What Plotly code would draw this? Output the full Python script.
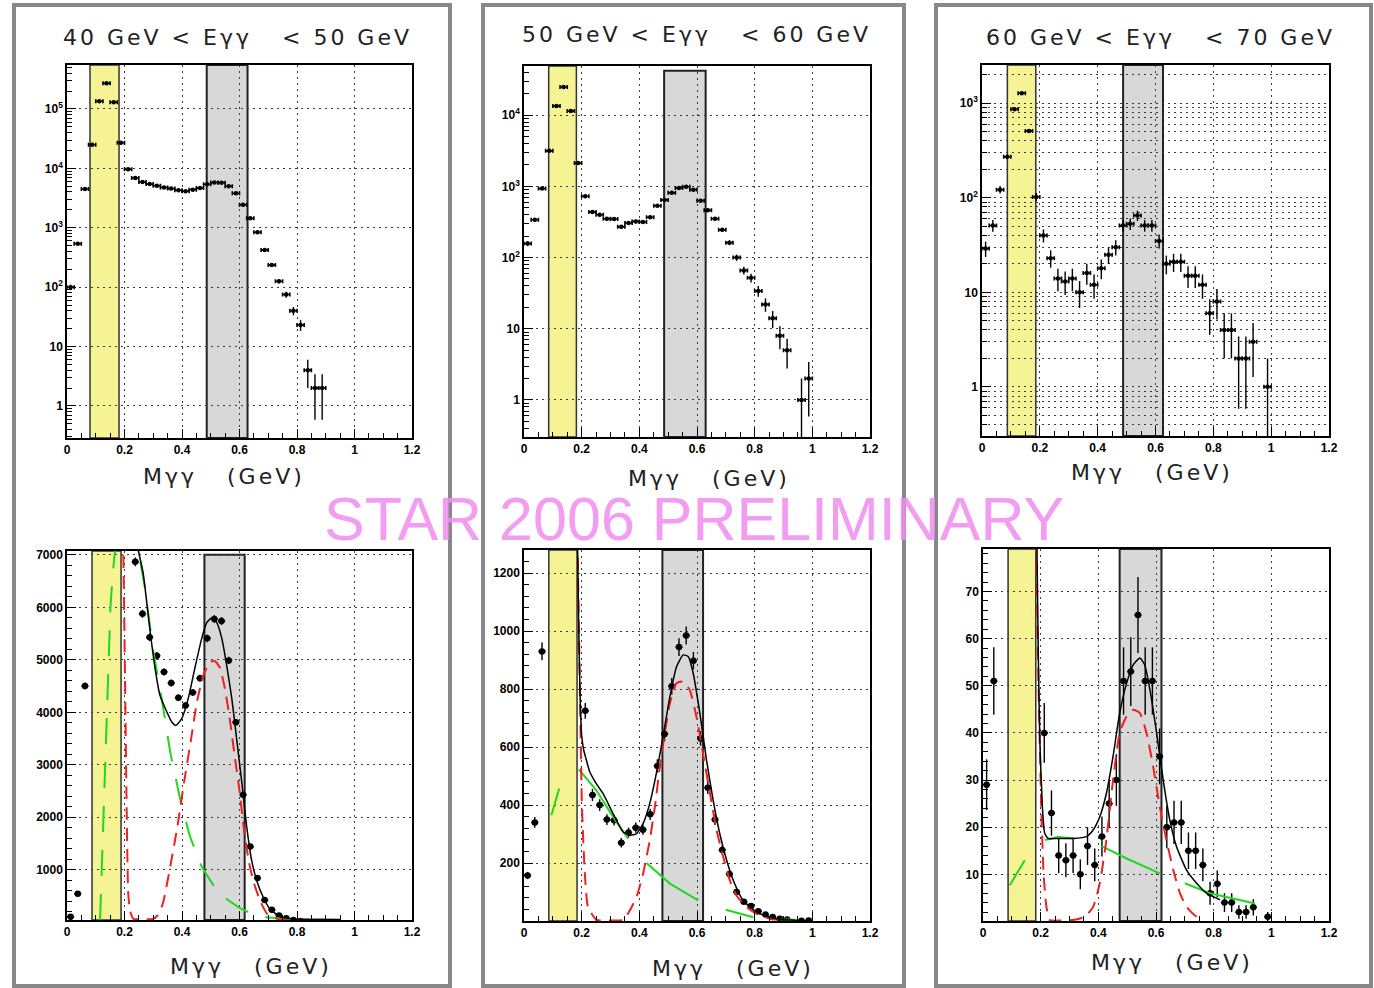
import numpy as np
import plotly.graph_objects as go

W, H = 1374, 988

# ---------------- data ----------------
MASS = [0.0125, 0.0375, 0.0625, 0.0875, 0.1125, 0.1375, 0.1625, 0.1875, 0.2125, 0.2375,
        0.2625, 0.2875, 0.3125, 0.3375, 0.3625, 0.3875, 0.4125, 0.4375, 0.4625, 0.4875,
        0.5125, 0.5375, 0.5625, 0.5875, 0.6125, 0.6375, 0.6625, 0.6875, 0.7125, 0.7375,
        0.7625, 0.7875, 0.8125, 0.8375, 0.8625, 0.8875, 0.9125, 0.9375, 0.9625, 0.9875]

COUNTS_40_50 = [100, 540, 4500, 25000, 135000, 270000, 130000, 27000, 9700, 6870,
                5880, 5430, 5080, 4770, 4560, 4280, 4130, 4380, 4650, 5410,
                5780, 5740, 4990, 3810, 2430, 1440, 840, 420, 235, 126,
                75, 40, 23, 4, 2, 2, None, None, None, None]

COUNTS_50_60 = [157, 340, 930, 3150, 13400, 24800, 11400, 2120, 725, 435,
                400, 350, 348, 270, 305, 322, 315, 368, 535, 645,
                810, 945, 985, 898, 630, 460, 350, 245, 162, 100,
                66, 52, 34, 22, 14, 8, 5, None, 1, 2]

COUNTS_60_70 = [29, 51, 122, 272, 864, 1276, 510, 102, 40, 23,
                14, 13, 14, 10, 16, 12, 18, 25, 30, 51,
                53, 65, 51, 51, 35, 20, 21, 21, 15, 15,
                12, 6, 8, 4, 4, 2, 2, 3, None, 1]

TITLES = ["40 GeV < Eγγ\u00a0\u00a0 < 50 GeV",
          "50 GeV < Eγγ\u00a0\u00a0 < 60 GeV",
          "60 GeV < Eγγ\u00a0\u00a0 < 70 GeV"]
XLABEL = "Mγγ\u00a0\u00a0 (GeV)"
WATERMARK = "STAR 2006 PRELIMINARY"

X_TICKS = [0, 0.2, 0.4, 0.6, 0.8, 1.0, 1.2]
X_TICK_TEXT = ["0", "0.2", "0.4", "0.6", "0.8", "1", "1.2"]

LOG_TICKS_40_50 = [1, 10, 100, 1000, 10000, 100000]
LOG_TEXT_40_50 = ["1", "10", "10<sup>2</sup>", "10<sup>3</sup>", "10<sup>4</sup>", "10<sup>5</sup>"]
LOG_TICKS_50_60 = [1, 10, 100, 1000, 10000]
LOG_TEXT_50_60 = ["1", "10", "10<sup>2</sup>", "10<sup>3</sup>", "10<sup>4</sup>"]
LOG_TICKS_60_70 = [1, 10, 100, 1000]
LOG_TEXT_60_70 = ["1", "10", "10<sup>2</sup>", "10<sup>3</sup>"]

LIN_TICKS_40_50 = [1000, 2000, 3000, 4000, 5000, 6000, 7000]
LIN_TICKS_50_60 = [200, 400, 600, 800, 1000, 1200]
LIN_TICKS_60_70 = [10, 20, 30, 40, 50, 60, 70]

# fit curves (total = black, signal = red, background = green)
FIT_40_50_X = [0.24, 0.248, 0.265, 0.289, 0.306, 0.323, 0.347, 0.364, 0.379, 0.399, 0.422, 0.445,
               0.469, 0.486, 0.503, 0.521, 0.538, 0.555, 0.573, 0.59, 0.608, 0.625, 0.642, 0.66,
               0.683, 0.706, 0.741, 0.787, 0.85, 0.95]
FIT_40_50_Y = [7600, 7100, 6650, 5550, 4850, 4330, 4010, 3820, 3750, 3880, 4270, 4850,
               5420, 5710, 5800, 5710, 5420, 4910, 4270, 3500, 2660, 1820, 1180, 790,
               470, 250, 100, 60, 50, 48]
SIG_40_50_X = [0.19, 0.196, 0.2017, 0.2075, 0.213, 0.22, 0.231, 0.26, 0.299, 0.315, 0.333, 0.361,
               0.384, 0.407, 0.43, 0.452, 0.475, 0.498, 0.515, 0.532, 0.549, 0.566, 0.583, 0.6,
               0.617, 0.634, 0.651, 0.674, 0.697, 0.732, 0.778, 0.85]
SIG_40_50_Y = [9000, 7030, 4720, 2150, 540, 200, 60, 55, 60, 130, 344, 1116,
               1823, 2659, 3431, 4203, 4717, 4961, 4974, 4846, 4460, 3881, 3174, 2500,
               1695, 1116, 730, 376, 151, 60, 50, 48]
BKG_40_50_X = [0.115, 0.128, 0.139, 0.151, 0.16, 0.168, 0.175, None,
               0.238, 0.248, 0.27, 0.3, 0.329, 0.36, 0.399, 0.428, 0.469, 0.521, 0.545,
               0.58, 0.6, 0.665, 0.73, 0.8, 0.94]
BKG_40_50_Y = [40, 2200, 4300, 6000, 6700, 7080, 7500, None,
               7700, 7100, 6400, 5170, 4270, 3210, 2210, 1630, 1050, 600, 480,
               340, 270, 100, 70, 50, 46]

FIT_50_60_X = [0.185, 0.19, 0.195, 0.2, 0.207, 0.215, 0.228, 0.25, 0.274, 0.309, 0.344, 0.367,
               0.39, 0.413, 0.436, 0.459, 0.482, 0.506, 0.529, 0.552, 0.57, 0.587, 0.61, 0.633,
               0.656, 0.679, 0.703, 0.726, 0.76, 0.807, 0.853, 0.911, 0.97]
FIT_50_60_Y = [1350, 1000, 760, 640, 590, 560, 515, 475, 440, 370, 307, 296,
               301, 336, 405, 509, 635, 774, 877, 918, 912, 854, 716, 555,
               417, 301, 209, 140, 71, 31, 13, 4, 2]
SIG_50_60_X = [0.184, 0.193, 0.201, 0.211, 0.222, 0.251, 0.3, 0.344, 0.367, 0.39, 0.413, 0.436,
               0.454, 0.471, 0.488, 0.506, 0.529, 0.552, 0.575, 0.598, 0.621, 0.645, 0.668,
               0.691, 0.714, 0.737, 0.772, 0.807, 0.853, 0.9]
SIG_50_60_Y = [1400, 854, 394, 163, 48, 4, 2, 4, 36, 82, 163, 278,
               394, 532, 647, 751, 820, 826, 797, 705, 578, 440, 313,
               221, 140, 88, 48, 25, 8, 2]
BKG_50_60_X = [0.095, 0.122, None, 0.19, 0.251, 0.309, 0.361, None, 0.425, 0.506, 0.604, None,
               0.70, 0.795, None, 0.888, 0.94]
BKG_50_60_Y = [365, 457, None, 523, 451, 359, 284, None, 200, 129, 71, None,
               39, 13, None, 6, 4]

FIT_60_70_X = [0.186, 0.191, 0.197, 0.206, 0.214, 0.226, 0.255, 0.312, 0.359, 0.382, 0.405, 0.428,
               0.451, 0.474, 0.498, 0.521, 0.544, 0.561, 0.579, 0.602, 0.625, 0.648, 0.671,
               0.706, 0.741, 0.775, 0.822]
FIT_60_70_Y = [85, 59.8, 38.5, 24.3, 18.7, 17.6, 17.6, 17.6, 18, 19.4, 22.2, 27.2,
               35, 44.2, 50.5, 54.4, 55.9, 54.4, 49.1, 40, 30, 21.5, 15.9,
               10.9, 8.1, 6, 4.6]
SIG_60_70_X = [0.183, 0.1875, 0.194, 0.202, 0.21, 0.22, 0.231, 0.27, 0.312, 0.353, 0.382, 0.405,
               0.428, 0.451, 0.474, 0.498, 0.521, 0.544, 0.567, 0.59, 0.613, 0.636, 0.66,
               0.683, 0.706, 0.741, 0.764]
SIG_60_70_Y = [85, 66.8, 45.6, 24.4, 10.2, 3.1, 0.3, 0.2, 0.3, 1, 3.1, 8.1,
               17.3, 30, 40, 43.5, 44.9, 44.2, 40, 32.9, 24.4, 17.3, 10.9,
               6, 3.1, 1, 0.3]
BKG_60_70_X = [0.093, 0.145, None, 0.214, 0.26, 0.318, None, 0.411, 0.5, 0.613, None,
               0.70, 0.787, 0.943]
BKG_60_70_Y = [7.7, 13, None, 17.3, 17.9, 17.6, None, 16, 13.3, 10.2, None,
               8.1, 6, 3.8]

# highlighted mass windows (pi0 = yellow, eta = gray), one per panel
YELLOW_BANDS = [(0.080, 0.181), (0.0856, 0.1817), (0.0877, 0.186),
                (0.087, 0.188), (0.086, 0.184), (0.087, 0.183)]
GRAY_BANDS = [(0.486, 0.628), (0.486, 0.630), (0.488, 0.626),
              (0.478, 0.618), (0.480, 0.621), (0.474, 0.619)]
GRAY_TOPS = [1.0, 0.987, 1.0, 0.99, 1.0, 1.0]

# ---------------- layout geometry (pixels) ----------------
PANELS = [
    dict(box=(67, 412, 65, 438), log=True, yr=[-0.54, 5.74], counts=COUNTS_40_50,
         tv=LOG_TICKS_40_50, tt=LOG_TEXT_40_50, mgrid=False),
    dict(box=(524, 870, 66, 437), log=True, yr=[-0.52, 4.69], counts=COUNTS_50_60,
         tv=LOG_TICKS_50_60, tt=LOG_TEXT_50_60, mgrid=False),
    dict(box=(982, 1329, 65, 436), log=True, yr=[-0.52, 3.405], counts=COUNTS_60_70,
         tv=LOG_TICKS_60_70, tt=LOG_TEXT_60_70, mgrid=True),
    dict(box=(67, 412, 551, 920), log=False, yr=[40, 7076], counts=COUNTS_40_50,
         tv=LIN_TICKS_40_50, tt=[str(v) for v in LIN_TICKS_40_50], minor=200,
         fit=(FIT_40_50_X, FIT_40_50_Y), sig=(SIG_40_50_X, SIG_40_50_Y),
         bkg=(BKG_40_50_X, BKG_40_50_Y), bkgdash="26px,18px"),
    dict(box=(524, 870, 550, 921), log=False, yr=[0, 1280], counts=COUNTS_50_60,
         tv=LIN_TICKS_50_60, tt=[str(v) for v in LIN_TICKS_50_60], minor=40,
         fit=(FIT_50_60_X, FIT_50_60_Y), sig=(SIG_50_60_X, SIG_50_60_Y),
         bkg=(BKG_50_60_X, BKG_50_60_Y), bkgdash="solid"),
    dict(box=(983, 1329, 549, 921), log=False, yr=[0.1, 79], counts=COUNTS_60_70,
         tv=LIN_TICKS_60_70, tt=[str(v) for v in LIN_TICKS_60_70], minor=2,
         fit=(FIT_60_70_X, FIT_60_70_Y), sig=(SIG_60_70_X, SIG_60_70_Y),
         bkg=(BKG_60_70_X, BKG_60_70_Y), bkgdash="solid"),
]

TICKFONT = dict(family="Liberation Sans", size=12, color="black", weight="bold")
GRID = dict(showgrid=True, gridcolor="#3a3a3a", griddash="2px,4px", gridwidth=1)

fig = go.Figure()
layout = dict(width=W, height=H, margin=dict(l=0, r=0, t=0, b=0, pad=0, autoexpand=False),
              paper_bgcolor="white", plot_bgcolor="white", showlegend=False)
shapes = []
annotations = []

for i, p in enumerate(PANELS):
    k = i + 1
    xa, ya = ("x" if k == 1 else f"x{k}"), ("y" if k == 1 else f"y{k}")
    xl, xr, yt, yb = p["box"]
    top = p["log"]

    counts = p["counts"]
    errs = [None if c is None else float(np.sqrt(c)) for c in counts]
    fig.add_trace(go.Scatter(
        x=MASS, y=counts, mode="markers", xaxis=xa, yaxis=ya,
        marker=dict(color="black", size=4.5 if top else 6.5, symbol="circle"),
        error_y=dict(type="data", array=errs, color="black", thickness=1.4, width=0),
        error_x=dict(type="constant", value=0.0125, color="black", thickness=1.6,
                     width=2 if top else 0),
        hoverinfo="skip"))

    if not top:
        bx, by = p["bkg"]
        fig.add_trace(go.Scatter(x=bx, y=by, mode="lines", xaxis=xa, yaxis=ya,
                                 line=dict(color="#1fd81f", width=2, dash=p["bkgdash"]),
                                 connectgaps=False, hoverinfo="skip"))
        sx, sy = p["sig"]
        fig.add_trace(go.Scatter(x=sx, y=sy, mode="lines", xaxis=xa, yaxis=ya,
                                 line=dict(color="#ee2020", width=2, dash="13px,8px",
                                           shape="spline", smoothing=0.5),
                                 hoverinfo="skip"))
        fx, fy = p["fit"]
        fig.add_trace(go.Scatter(x=fx, y=fy, mode="lines", xaxis=xa, yaxis=ya,
                                 line=dict(color="black", width=1.5, shape="spline",
                                           smoothing=0.5),
                                 hoverinfo="skip"))

    xaxis = dict(domain=[xl / W, xr / W], anchor=ya, range=[0, 1.2],
                 tickmode="array", tickvals=X_TICKS, ticktext=X_TICK_TEXT,
                 showline=True, mirror=True, linecolor="black", linewidth=1.5,
                 ticks="inside", ticklen=9, tickwidth=1, tickcolor="black",
                 minor=dict(ticks="inside", ticklen=5, tickcolor="black",
                            tick0=0, dtick=0.05, showgrid=False),
                 tickfont=TICKFONT, zeroline=False, fixedrange=True,
                 automargin=False, **GRID)
    yaxis = dict(domain=[1 - yb / H, 1 - yt / H], anchor=xa, range=p["yr"],
                 tickmode="array", tickvals=p["tv"], ticktext=p["tt"],
                 showline=True, mirror=True, linecolor="black", linewidth=1.5,
                 ticks="inside", ticklen=9, tickwidth=1, tickcolor="black",
                 tickfont=TICKFONT, zeroline=False, fixedrange=True,
                 automargin=False, **GRID)
    if top:
        yaxis["type"] = "log"
        yaxis["minor"] = dict(ticks="inside", ticklen=5, tickcolor="black", dtick="D1",
                              showgrid=p["mgrid"], gridcolor="#3a3a3a",
                              griddash="2px,4px", gridwidth=1)
    else:
        yaxis["minor"] = dict(ticks="inside", ticklen=5, tickcolor="black",
                              tick0=0, dtick=p["minor"], showgrid=False)
    layout["xaxis" if k == 1 else f"xaxis{k}"] = xaxis
    layout["yaxis" if k == 1 else f"yaxis{k}"] = yaxis

    y0, y1 = YELLOW_BANDS[i]
    g0, g1 = GRAY_BANDS[i]
    shapes.append(dict(type="rect", xref=xa, yref=f"{ya} domain", x0=y0, x1=y1, y0=0, y1=1,
                       fillcolor="#f6f394", line=dict(color="#333333", width=1.5),
                       layer="below"))
    shapes.append(dict(type="rect", xref=xa, yref=f"{ya} domain", x0=g0, x1=g1, y0=0,
                       y1=GRAY_TOPS[i], fillcolor="#d8d8d8",
                       line=dict(color="#222222", width=2), layer="below"))

# column frames
for (l, r) in [(14, 450), (483, 904), (936, 1371)]:
    shapes.append(dict(type="rect", xref="paper", yref="paper",
                       x0=l / W, x1=r / W, y0=1 - 986 / H, y1=1 - 5 / H,
                       line=dict(color="#888888", width=4), fillcolor="rgba(0,0,0,0)",
                       layer="above"))

TITLE_POS = [(237, 37), (696, 35), (1160, 37)]
XLAB_POS = [(224, 476), (709, 478), (1152, 472), (251, 966), (733, 968), (1172, 962)]
LABFONT = dict(family="DejaVu Sans", size=22, color="#222222")


def spaced(s, px):
    return f'<span style="letter-spacing:{px}px">{s}</span>'


for t, (x, y) in zip(TITLES, TITLE_POS):
    annotations.append(dict(text=spaced(t, 3), x=x / W, y=1 - y / H, xref="paper",
                            yref="paper", showarrow=False, xanchor="center",
                            yanchor="middle", font=LABFONT))
for (x, y) in XLAB_POS:
    annotations.append(dict(text=spaced(XLABEL, 3), x=x / W, y=1 - y / H, xref="paper",
                            yref="paper", showarrow=False, xanchor="center",
                            yanchor="middle", font=LABFONT))
annotations.append(dict(text=WATERMARK, x=694 / W, y=1 - 519 / H, xref="paper",
                        yref="paper", showarrow=False, xanchor="center", yanchor="middle",
                        font=dict(family="Liberation Sans", size=61,
                                  color="rgba(240,140,240,0.85)")))

layout["shapes"] = shapes
layout["annotations"] = annotations
fig.update_layout(**layout)
fig.write_html("out.html")
